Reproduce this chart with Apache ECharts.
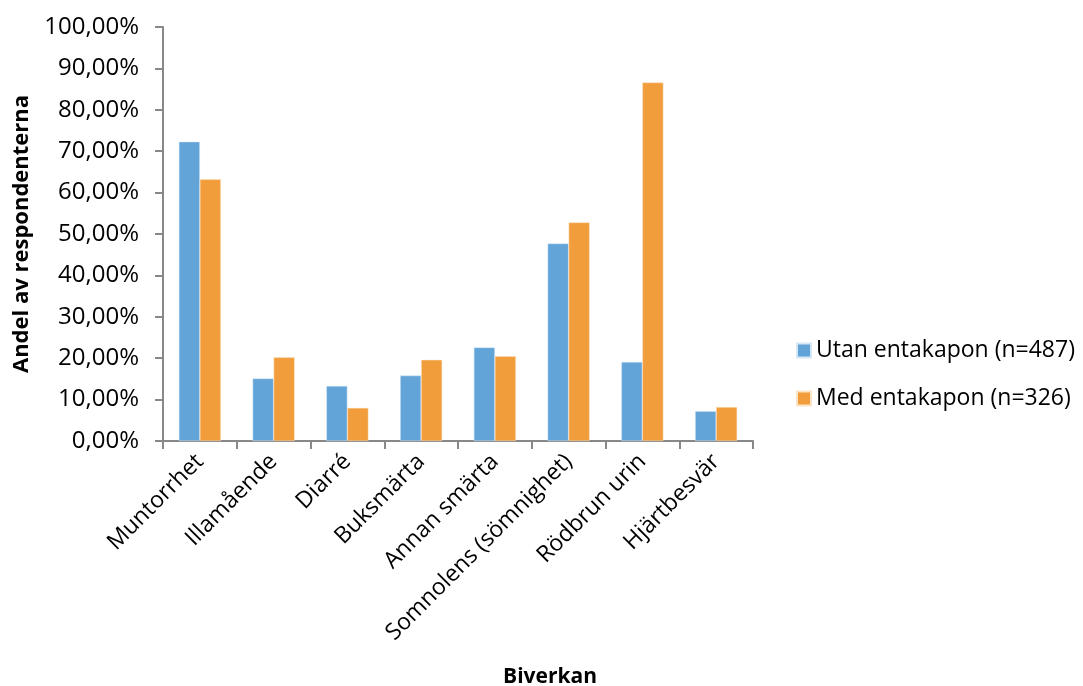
<!DOCTYPE html>
<html>
<head>
<meta charset="utf-8">
<style>
  html, body { margin: 0; padding: 0; background: #fff; }
  #chart { width: 1083px; height: 686px; }
</style>
<script src="https://cdn.jsdelivr.net/npm/echarts@6/dist/echarts.min.js"></script>
</head>
<body>
<div id="chart"></div>
<script>
// biverkningar, andel i procent
const categories = ['Muntorrhet', 'Illamående', 'Diarré', 'Buksmärta', 'Annan smärta', 'Somnolens (sömnighet)', 'Rödbrun urin', 'Hjärtbesvär']
const utanEntakapon = [72.3, 15.1, 13.3, 15.8, 22.6, 47.7, 19.1, 7.2]
const medEntakapon = [63.2, 20.2, 8.0, 19.6, 20.5, 52.8, 86.6, 8.2]
const seriesNames = ['Utan entakapon (n=487)', 'Med entakapon (n=326)']

const font = '"Open Sans", "Noto Sans", sans-serif'
const axisGray = '#888888'

const chart = echarts.init(document.getElementById('chart'))
const option = {
  color: ['#62a3d8', '#f29d3c'],
  animation: false,
  textStyle: { fontFamily: font },
  legend: {
    orient: 'vertical',
    left: 791,
    top: 334,
    itemWidth: 14,
    itemHeight: 14,
    itemGap: 25,
    itemTextGap: 8,
    icon: 'rect',
    textStyle: { fontSize: 23, color: '#000', fontFamily: font },
    data: seriesNames
  },
  grid: { left: 163, right: 330, top: 27, bottom: 245, containLabel: false, outerBoundsMode: 'none' },
  xAxis: {
    type: 'category',
    data: categories,
    name: 'Biverkan',
    nameLocation: 'middle',
    nameGap: 226,
    // titeln ligger till höger om plotens mitt i originalet
    nameTextStyle: { fontSize: 21, fontWeight: 'bold', color: '#000', fontFamily: font, padding: [0, 0, 0, 184] },
    axisLine: { lineStyle: { color: axisGray, width: 2 } },
    axisTick: { show: true, length: 8, lineStyle: { color: axisGray, width: 2 } },
    axisLabel: { rotate: 45, fontSize: 23, color: '#000', margin: 17, fontFamily: font }
  },
  yAxis: {
    type: 'value',
    min: 0,
    max: 100,
    interval: 10,
    name: 'Andel av respondenterna',
    nameLocation: 'middle',
    nameGap: 130,
    nameRotate: 90,
    nameTextStyle: { fontSize: 22, fontWeight: 'bold', color: '#000', fontFamily: font },
    axisLine: { show: true, lineStyle: { color: axisGray, width: 2 } },
    axisTick: { show: true, length: 8, inside: false, lineStyle: { color: axisGray, width: 2 } },
    splitLine: { show: false },
    axisLabel: {
      fontSize: 24,
      color: '#000',
      margin: 24,
      fontFamily: font,
      formatter: v => v.toFixed(2).replace('.', ',') + '%'
    }
  },
  series: [
    {
      name: seriesNames[0],
      type: 'bar',
      data: utanEntakapon,
      barGap: '0%',
      barCategoryGap: '43%',
      itemStyle: { borderColor: '#d6e8f6', borderWidth: 0.5 }
    },
    {
      name: seriesNames[1],
      type: 'bar',
      data: medEntakapon,
      itemStyle: { borderColor: '#fbe3c6', borderWidth: 0.5 }
    }
  ]
}
chart.setOption(option)
window.addEventListener('resize', () => {
  chart.resize()
})
</script>
</body>
</html>
